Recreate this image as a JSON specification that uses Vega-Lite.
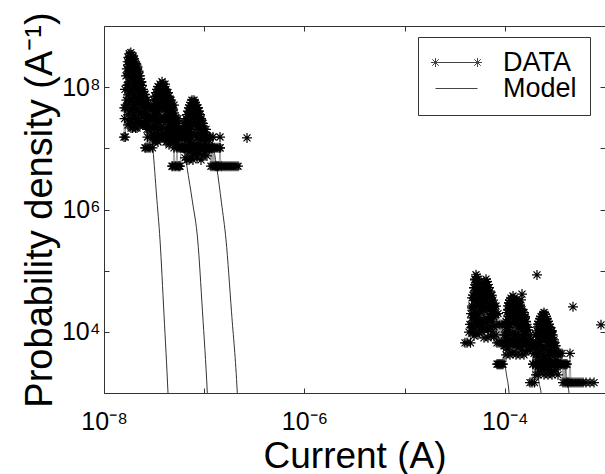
{
"$schema": "https://vega.github.io/schema/vega-lite/v6.json",
"width": 501, "height": 367,
"autosize": {"type": "none"},
"padding": {"left": 104, "top": 26, "right": 0, "bottom": 81},
"background": "white",
"config": {"font": "Liberation Sans", "view": {"stroke": "#333", "strokeWidth": 1}},
"datasets": {
"data": [
{"x":1.583e-8,"y":1.53e7,"g":"A"},{"x":1.594e-8,"y":4.59e7,"g":"A"},{"x":1.605e-8,"y":3.06e7,"g":"A"},{"x":1.62e-8,"y":9.18e7,"g":"A"},{"x":1.631e-8,"y":1.53e7,"g":"A"},{"x":1.643e-8,"y":4.59e7,"g":"A"},{"x":1.658e-8,"y":1.53e8,"g":"A"},{"x":1.673e-8,"y":6.12e7,"g":"A"},{"x":1.688e-8,"y":1.989e8,"g":"A"},{"x":1.704e-8,"y":1.071e8,"g":"A"},{"x":1.72e-8,"y":2.601e8,"g":"A"},{"x":1.736e-8,"y":1.683e8,"g":"A"},{"x":1.752e-8,"y":3.06e8,"g":"A"},{"x":1.768e-8,"y":2.142e8,"g":"A"},{"x":1.784e-8,"y":3.519e8,"g":"A"},{"x":1.801e-8,"y":2.601e8,"g":"A"},{"x":1.817e-8,"y":3.213e8,"g":"A"},{"x":1.834e-8,"y":1.836e8,"g":"A"},{"x":1.851e-8,"y":3.672e8,"g":"A"},{"x":1.869e-8,"y":2.754e8,"g":"A"},{"x":1.886e-8,"y":3.366e8,"g":"A"},{"x":1.903e-8,"y":2.295e8,"g":"A"},{"x":1.921e-8,"y":3.06e8,"g":"A"},{"x":1.938e-8,"y":1.53e8,"g":"A"},{"x":1.956e-8,"y":3.213e8,"g":"A"},{"x":1.975e-8,"y":2.448e8,"g":"A"},{"x":1.993e-8,"y":2.907e8,"g":"A"},{"x":2.011e-8,"y":1.224e8,"g":"A"},{"x":2.03e-8,"y":2.601e8,"g":"A"},{"x":2.048e-8,"y":1.989e8,"g":"A"},{"x":2.067e-8,"y":2.448e8,"g":"A"},{"x":2.086e-8,"y":1.683e8,"g":"A"},{"x":2.11e-8,"y":2.295e8,"g":"A"},{"x":2.135e-8,"y":1.377e8,"g":"A"},{"x":2.16e-8,"y":2.142e8,"g":"A"},{"x":2.184e-8,"y":1.071e8,"g":"A"},{"x":2.21e-8,"y":1.836e8,"g":"A"},{"x":2.235e-8,"y":1.53e8,"g":"A"},{"x":2.261e-8,"y":7.65e7,"g":"A"},{"x":2.287e-8,"y":1.53e8,"g":"A"},{"x":2.313e-8,"y":1.071e8,"g":"A"},{"x":2.34e-8,"y":1.224e8,"g":"A"},{"x":2.367e-8,"y":6.12e7,"g":"A"},{"x":2.394e-8,"y":1.071e8,"g":"A"},{"x":2.422e-8,"y":7.65e7,"g":"A"},{"x":2.45e-8,"y":9.18e7,"g":"A"},{"x":2.478e-8,"y":4.59e7,"g":"A"},{"x":2.507e-8,"y":7.65e7,"g":"A"},{"x":2.536e-8,"y":6.12e7,"g":"A"},{"x":2.565e-8,"y":7.65e7,"g":"A"},{"x":2.595e-8,"y":3.06e7,"g":"A"},{"x":2.625e-8,"y":6.12e7,"g":"A"},{"x":2.655e-8,"y":4.59e7,"g":"A"},{"x":2.686e-8,"y":6.12e7,"g":"A"},{"x":2.717e-8,"y":1.53e7,"g":"A"},{"x":2.748e-8,"y":4.59e7,"g":"A"},{"x":2.78e-8,"y":3.06e7,"g":"A"},{"x":2.812e-8,"y":4.59e7,"g":"A"},{"x":2.877e-8,"y":3.06e7,"g":"A"},{"x":2.944e-8,"y":4.59e7,"g":"A"},{"x":3.013e-8,"y":1.53e7,"g":"A"},{"x":3.083e-8,"y":3.06e7,"g":"A"},{"x":3.155e-8,"y":1.53e7,"g":"A"},{"x":3.266e-8,"y":3.06e7,"g":"A"},{"x":3.381e-8,"y":1.53e7,"g":"A"},{"x":3.499e-8,"y":1.53e7,"g":"A"},{"x":3.622e-8,"y":3.06e7,"g":"A"},{"x":3.749e-8,"y":1.53e7,"g":"A"},{"x":3.881e-8,"y":1.53e7,"g":"A"},{"x":4.017e-8,"y":1.53e7,"g":"A"},{"x":4.157e-8,"y":1.53e7,"g":"A"},{"x":4.352e-8,"y":3.06e7,"g":"A"},{"x":4.557e-8,"y":1.53e7,"g":"A"},{"x":4.771e-8,"y":1.53e7,"g":"A"},{"x":4.995e-8,"y":1.53e7,"g":"A"},{"x":5.231e-8,"y":1.53e7,"g":"A"},{"x":5.476e-8,"y":1.53e7,"g":"A"},{"x":5.734e-8,"y":1.53e7,"g":"A"},{"x":6.003e-8,"y":1.53e7,"g":"A"},{"x":6.285e-8,"y":1.53e7,"g":"A"},{"x":6.582e-8,"y":1.53e7,"g":"A"},{"x":6.891e-8,"y":1.53e7,"g":"A"},{"x":7.216e-8,"y":1.53e7,"g":"A"},
{"x":1.224e-7,"y":1.53e7,"g":"A2"},{"x":1.438e-7,"y":1.53e7,"g":"A2"},
{"x":2.674e-7,"y":1.48e7,"g":"o1"},
{"x":2.565e-8,"y":1.02e7,"g":"B"},{"x":2.625e-8,"y":1.02e7,"g":"B"},{"x":2.686e-8,"y":2.04e7,"g":"B"},{"x":2.748e-8,"y":1.02e7,"g":"B"},{"x":2.812e-8,"y":2.04e7,"g":"B"},{"x":2.877e-8,"y":1.02e7,"g":"B"},{"x":2.944e-8,"y":3.06e7,"g":"B"},{"x":3.013e-8,"y":2.04e7,"g":"B"},{"x":3.048e-8,"y":1.02e7,"g":"B"},{"x":3.083e-8,"y":4.08e7,"g":"B"},{"x":3.119e-8,"y":2.04e7,"g":"B"},{"x":3.155e-8,"y":6.12e7,"g":"B"},{"x":3.191e-8,"y":3.06e7,"g":"B"},{"x":3.228e-8,"y":7.14e7,"g":"B"},{"x":3.266e-8,"y":4.08e7,"g":"B"},{"x":3.304e-8,"y":8.16e7,"g":"B"},{"x":3.342e-8,"y":5.1e7,"g":"B"},{"x":3.381e-8,"y":9.18e7,"g":"B"},{"x":3.42e-8,"y":6.12e7,"g":"B"},{"x":3.459e-8,"y":1.02e8,"g":"B"},{"x":3.5e-8,"y":7.14e7,"g":"B"},{"x":3.54e-8,"y":9.18e7,"g":"B"},{"x":3.581e-8,"y":5.1e7,"g":"B"},{"x":3.622e-8,"y":1.122e8,"g":"B"},{"x":3.664e-8,"y":8.16e7,"g":"B"},{"x":3.706e-8,"y":1.02e8,"g":"B"},{"x":3.749e-8,"y":6.12e7,"g":"B"},{"x":3.792e-8,"y":1.224e8,"g":"B"},{"x":3.836e-8,"y":9.18e7,"g":"B"},{"x":3.881e-8,"y":1.122e8,"g":"B"},{"x":3.926e-8,"y":7.14e7,"g":"B"},{"x":3.971e-8,"y":1.02e8,"g":"B"},{"x":4.017e-8,"y":5.1e7,"g":"B"},{"x":4.063e-8,"y":1.122e8,"g":"B"},{"x":4.11e-8,"y":8.16e7,"g":"B"},{"x":4.157e-8,"y":9.18e7,"g":"B"},{"x":4.205e-8,"y":6.12e7,"g":"B"},{"x":4.254e-8,"y":8.16e7,"g":"B"},{"x":4.303e-8,"y":4.08e7,"g":"B"},{"x":4.352e-8,"y":8.16e7,"g":"B"},{"x":4.403e-8,"y":6.12e7,"g":"B"},{"x":4.454e-8,"y":7.14e7,"g":"B"},{"x":4.505e-8,"y":3.06e7,"g":"B"},{"x":4.557e-8,"y":6.12e7,"g":"B"},{"x":4.61e-8,"y":4.08e7,"g":"B"},{"x":4.663e-8,"y":6.12e7,"g":"B"},{"x":4.717e-8,"y":2.04e7,"g":"B"},{"x":4.771e-8,"y":5.1e7,"g":"B"},{"x":4.826e-8,"y":3.06e7,"g":"B"},{"x":4.882e-8,"y":4.08e7,"g":"B"},{"x":4.995e-8,"y":5.1e7,"g":"B"},{"x":5.112e-8,"y":2.04e7,"g":"B"},{"x":5.231e-8,"y":3.06e7,"g":"B"},{"x":5.352e-8,"y":2.04e7,"g":"B"},{"x":5.476e-8,"y":3.06e7,"g":"B"},{"x":5.604e-8,"y":1.02e7,"g":"B"},{"x":5.734e-8,"y":2.04e7,"g":"B"},{"x":5.867e-8,"y":1.02e7,"g":"B"},{"x":6.003e-8,"y":2.04e7,"g":"B"},{"x":6.285e-8,"y":1.02e7,"g":"B"},{"x":6.582e-8,"y":1.02e7,"g":"B"},{"x":6.891e-8,"y":1.02e7,"g":"B"},{"x":7.216e-8,"y":2.04e7,"g":"B"},{"x":7.554e-8,"y":1.02e7,"g":"B"},{"x":7.91e-8,"y":1.02e7,"g":"B"},{"x":8.283e-8,"y":1.02e7,"g":"B"},{"x":8.673e-8,"y":1.02e7,"g":"B"},{"x":9.081e-8,"y":1.02e7,"g":"B"},{"x":9.506e-8,"y":1.02e7,"g":"B"},{"x":9.954e-8,"y":1.02e7,"g":"B"},{"x":1.042e-7,"y":1.02e7,"g":"B"},{"x":1.091e-7,"y":1.02e7,"g":"B"},{"x":1.142e-7,"y":1.02e7,"g":"B"},{"x":1.196e-7,"y":1.02e7,"g":"B"},{"x":1.253e-7,"y":1.02e7,"g":"B"},{"x":1.312e-7,"y":1.02e7,"g":"B"},{"x":1.373e-7,"y":1.02e7,"g":"B"},{"x":1.438e-7,"y":1.02e7,"g":"B"},
{"x":4.771e-8,"y":5.1e6,"g":"C"},{"x":4.882e-8,"y":5.1e6,"g":"C"},{"x":4.995e-8,"y":1.02e7,"g":"C"},{"x":5.112e-8,"y":5.1e6,"g":"C"},{"x":5.231e-8,"y":5.1e6,"g":"C"},{"x":5.352e-8,"y":1.02e7,"g":"C"},{"x":5.476e-8,"y":5.1e6,"g":"C"},{"x":5.604e-8,"y":5.1e6,"g":"C"},{"x":5.734e-8,"y":5.1e6,"g":"C"},{"x":5.867e-8,"y":1.02e7,"g":"C"},{"x":6.003e-8,"y":1.53e7,"g":"C"},{"x":6.073e-8,"y":1.02e7,"g":"C"},{"x":6.143e-8,"y":2.04e7,"g":"C"},{"x":6.214e-8,"y":1.02e7,"g":"C"},{"x":6.285e-8,"y":2.55e7,"g":"C"},{"x":6.358e-8,"y":1.53e7,"g":"C"},{"x":6.432e-8,"y":2.55e7,"g":"C"},{"x":6.507e-8,"y":1.02e7,"g":"C"},{"x":6.582e-8,"y":3.06e7,"g":"C"},{"x":6.658e-8,"y":2.04e7,"g":"C"},{"x":6.735e-8,"y":3.57e7,"g":"C"},{"x":6.813e-8,"y":1.53e7,"g":"C"},{"x":6.891e-8,"y":4.08e7,"g":"C"},{"x":6.971e-8,"y":2.55e7,"g":"C"},{"x":7.052e-8,"y":4.59e7,"g":"C"},{"x":7.134e-8,"y":3.06e7,"g":"C"},{"x":7.216e-8,"y":5.1e7,"g":"C"},{"x":7.299e-8,"y":3.57e7,"g":"C"},{"x":7.383e-8,"y":5.61e7,"g":"C"},{"x":7.468e-8,"y":3.06e7,"g":"C"},{"x":7.554e-8,"y":6.12e7,"g":"C"},{"x":7.642e-8,"y":4.08e7,"g":"C"},{"x":7.73e-8,"y":5.61e7,"g":"C"},{"x":7.82e-8,"y":3.57e7,"g":"C"},{"x":7.91e-8,"y":6.12e7,"g":"C"},{"x":8.002e-8,"y":4.59e7,"g":"C"},{"x":8.094e-8,"y":5.61e7,"g":"C"},{"x":8.188e-8,"y":3.06e7,"g":"C"},{"x":8.283e-8,"y":5.1e7,"g":"C"},{"x":8.379e-8,"y":3.57e7,"g":"C"},{"x":8.475e-8,"y":4.59e7,"g":"C"},{"x":8.574e-8,"y":2.55e7,"g":"C"},{"x":8.673e-8,"y":4.59e7,"g":"C"},{"x":8.773e-8,"y":3.06e7,"g":"C"},{"x":8.874e-8,"y":4.08e7,"g":"C"},{"x":8.977e-8,"y":2.04e7,"g":"C"},{"x":9.081e-8,"y":3.57e7,"g":"C"},{"x":9.186e-8,"y":2.55e7,"g":"C"},{"x":9.292e-8,"y":3.06e7,"g":"C"},{"x":9.399e-8,"y":1.53e7,"g":"C"},{"x":9.506e-8,"y":2.55e7,"g":"C"},{"x":9.616e-8,"y":2.04e7,"g":"C"},{"x":9.727e-8,"y":2.55e7,"g":"C"},{"x":9.954e-8,"y":2.04e7,"g":"C"},{"x":1.019e-7,"y":1.02e7,"g":"C"},{"x":1.042e-7,"y":2.04e7,"g":"C"},{"x":1.066e-7,"y":1.53e7,"g":"C"},{"x":1.091e-7,"y":1.53e7,"g":"C"},{"x":1.116e-7,"y":1.02e7,"g":"C"},{"x":1.142e-7,"y":1.53e7,"g":"C"},{"x":1.169e-7,"y":5.1e6,"g":"C"},{"x":1.196e-7,"y":1.02e7,"g":"C"},{"x":1.224e-7,"y":5.1e6,"g":"C"},{"x":1.253e-7,"y":1.02e7,"g":"C"},{"x":1.282e-7,"y":5.1e6,"g":"C"},{"x":1.312e-7,"y":5.1e6,"g":"C"},{"x":1.342e-7,"y":5.1e6,"g":"C"},{"x":1.373e-7,"y":5.1e6,"g":"C"},{"x":1.405e-7,"y":5.1e6,"g":"C"},{"x":1.438e-7,"y":1.02e7,"g":"C"},{"x":1.471e-7,"y":5.1e6,"g":"C"},{"x":1.506e-7,"y":5.1e6,"g":"C"},{"x":1.576e-7,"y":5.1e6,"g":"C"},{"x":1.65e-7,"y":5.1e6,"g":"C"},{"x":1.728e-7,"y":5.1e6,"g":"C"},{"x":1.809e-7,"y":5.1e6,"g":"C"},{"x":1.894e-7,"y":5.1e6,"g":"C"},{"x":1.983e-7,"y":5.1e6,"g":"C"},{"x":2.077e-7,"y":5.1e6,"g":"C"},{"x":2.174e-7,"y":5.1e6,"g":"C"},
{"x":1.736e-8,"y":2.31e8,"g":"fa1"},{"x":1.736e-8,"y":1.58e8,"g":"fa1"},{"x":1.736e-8,"y":1.09e8,"g":"fa1"},{"x":1.736e-8,"y":7.46e7,"g":"fa1"},{"x":1.736e-8,"y":5.12e7,"g":"fa1"},{"x":1.736e-8,"y":3.52e7,"g":"fa1"},{"x":1.736e-8,"y":2.41e7,"g":"fa1"},
{"x":1.797e-8,"y":2.58e8,"g":"fa2"},{"x":1.797e-8,"y":1.77e8,"g":"fa2"},{"x":1.797e-8,"y":1.22e8,"g":"fa2"},{"x":1.797e-8,"y":8.35e7,"g":"fa2"},{"x":1.797e-8,"y":5.73e7,"g":"fa2"},{"x":1.797e-8,"y":3.94e7,"g":"fa2"},{"x":1.797e-8,"y":2.7e7,"g":"fa2"},
{"x":1.86e-8,"y":2.78e8,"g":"fa3"},{"x":1.86e-8,"y":1.91e8,"g":"fa3"},{"x":1.86e-8,"y":1.31e8,"g":"fa3"},{"x":1.86e-8,"y":9.0e7,"g":"fa3"},{"x":1.86e-8,"y":6.18e7,"g":"fa3"},{"x":1.86e-8,"y":4.24e7,"g":"fa3"},{"x":1.86e-8,"y":2.91e7,"g":"fa3"},{"x":1.86e-8,"y":2.15e7,"g":"fa3"},
{"x":1.93e-8,"y":3.0e8,"g":"fa4"},{"x":1.93e-8,"y":2.06e8,"g":"fa4"},{"x":1.93e-8,"y":1.41e8,"g":"fa4"},{"x":1.93e-8,"y":9.7e7,"g":"fa4"},{"x":1.93e-8,"y":6.67e7,"g":"fa4"},{"x":1.93e-8,"y":4.57e7,"g":"fa4"},{"x":1.93e-8,"y":3.14e7,"g":"fa4"},{"x":1.93e-8,"y":2.15e7,"g":"fa4"},
{"x":1.993e-8,"y":2.31e8,"g":"fa5"},{"x":1.993e-8,"y":1.58e8,"g":"fa5"},{"x":1.993e-8,"y":1.09e8,"g":"fa5"},{"x":1.993e-8,"y":7.46e7,"g":"fa5"},{"x":1.993e-8,"y":5.12e7,"g":"fa5"},{"x":1.993e-8,"y":3.52e7,"g":"fa5"},{"x":1.993e-8,"y":2.41e7,"g":"fa5"},
{"x":2.062e-8,"y":2.06e8,"g":"fa6"},{"x":2.062e-8,"y":1.41e8,"g":"fa6"},{"x":2.062e-8,"y":9.7e7,"g":"fa6"},{"x":2.062e-8,"y":6.67e7,"g":"fa6"},{"x":2.062e-8,"y":4.57e7,"g":"fa6"},{"x":2.062e-8,"y":3.14e7,"g":"fa6"},{"x":2.062e-8,"y":2.15e7,"g":"fa6"},
{"x":2.135e-8,"y":1.91e8,"g":"fa7"},{"x":2.135e-8,"y":1.31e8,"g":"fa7"},{"x":2.135e-8,"y":9.0e7,"g":"fa7"},{"x":2.135e-8,"y":6.18e7,"g":"fa7"},{"x":2.135e-8,"y":4.24e7,"g":"fa7"},{"x":2.135e-8,"y":2.91e7,"g":"fa7"},{"x":2.135e-8,"y":2.15e7,"g":"fa7"},
{"x":2.21e-8,"y":1.77e8,"g":"fa8"},{"x":2.21e-8,"y":1.22e8,"g":"fa8"},{"x":2.21e-8,"y":8.35e7,"g":"fa8"},{"x":2.21e-8,"y":5.73e7,"g":"fa8"},{"x":2.21e-8,"y":3.94e7,"g":"fa8"},{"x":2.21e-8,"y":2.7e7,"g":"fa8"},
{"x":2.287e-8,"y":1.09e8,"g":"fa9"},{"x":2.287e-8,"y":7.46e7,"g":"fa9"},{"x":2.287e-8,"y":5.12e7,"g":"fa9"},{"x":2.287e-8,"y":3.52e7,"g":"fa9"},{"x":2.287e-8,"y":2.41e7,"g":"fa9"},
{"x":2.367e-8,"y":1.22e8,"g":"fa10"},{"x":2.367e-8,"y":8.35e7,"g":"fa10"},{"x":2.367e-8,"y":5.73e7,"g":"fa10"},{"x":2.367e-8,"y":3.94e7,"g":"fa10"},{"x":2.367e-8,"y":2.7e7,"g":"fa10"},
{"x":2.45e-8,"y":7.46e7,"g":"fa11"},{"x":2.45e-8,"y":5.12e7,"g":"fa11"},{"x":2.45e-8,"y":3.52e7,"g":"fa11"},{"x":2.45e-8,"y":2.41e7,"g":"fa11"},
{"x":2.536e-8,"y":7.46e7,"g":"fa12"},{"x":2.536e-8,"y":5.12e7,"g":"fa12"},{"x":2.536e-8,"y":3.52e7,"g":"fa12"},{"x":2.536e-8,"y":2.41e7,"g":"fa12"},
{"x":2.625e-8,"y":5.12e7,"g":"fa13"},{"x":2.625e-8,"y":3.52e7,"g":"fa13"},{"x":2.625e-8,"y":2.41e7,"g":"fa13"},
{"x":2.717e-8,"y":5.12e7,"g":"fa14"},{"x":2.717e-8,"y":3.14e7,"g":"fa14"},
{"x":2.812e-8,"y":3.52e7,"g":"fa15"},{"x":2.812e-8,"y":2.41e7,"g":"fa15"},
{"x":3.155e-8,"y":5.12e7,"g":"fb1"},{"x":3.155e-8,"y":3.52e7,"g":"fb1"},{"x":3.155e-8,"y":2.41e7,"g":"fb1"},{"x":3.155e-8,"y":1.66e7,"g":"fb1"},{"x":3.155e-8,"y":1.27e7,"g":"fb1"},
{"x":3.304e-8,"y":6.92e7,"g":"fb2"},{"x":3.304e-8,"y":4.75e7,"g":"fb2"},{"x":3.304e-8,"y":3.26e7,"g":"fb2"},{"x":3.304e-8,"y":2.24e7,"g":"fb2"},{"x":3.304e-8,"y":1.54e7,"g":"fb2"},
{"x":3.381e-8,"y":7.46e7,"g":"fb3"},{"x":3.381e-8,"y":4.24e7,"g":"fb3"},{"x":3.381e-8,"y":2.41e7,"g":"fb3"},{"x":3.381e-8,"y":1.37e7,"g":"fb3"},
{"x":3.459e-8,"y":8.35e7,"g":"fb4"},{"x":3.459e-8,"y":5.73e7,"g":"fb4"},{"x":3.459e-8,"y":3.94e7,"g":"fb4"},{"x":3.459e-8,"y":2.7e7,"g":"fb4"},{"x":3.459e-8,"y":1.85e7,"g":"fb4"},{"x":3.459e-8,"y":1.27e7,"g":"fb4"},
{"x":3.622e-8,"y":9.7e7,"g":"fb5"},{"x":3.622e-8,"y":6.67e7,"g":"fb5"},{"x":3.622e-8,"y":4.57e7,"g":"fb5"},{"x":3.622e-8,"y":3.14e7,"g":"fb5"},{"x":3.622e-8,"y":2.15e7,"g":"fb5"},{"x":3.622e-8,"y":1.48e7,"g":"fb5"},
{"x":3.706e-8,"y":1.047e8,"g":"fb6"},{"x":3.706e-8,"y":5.52e7,"g":"fb6"},{"x":3.706e-8,"y":2.91e7,"g":"fb6"},{"x":3.706e-8,"y":1.66e7,"g":"fb6"},
{"x":3.792e-8,"y":1.007e8,"g":"fb7"},{"x":3.792e-8,"y":6.92e7,"g":"fb7"},{"x":3.792e-8,"y":4.75e7,"g":"fb7"},{"x":3.792e-8,"y":3.26e7,"g":"fb7"},{"x":3.792e-8,"y":2.24e7,"g":"fb7"},{"x":3.792e-8,"y":1.54e7,"g":"fb7"},
{"x":3.971e-8,"y":9.7e7,"g":"fb8"},{"x":3.971e-8,"y":6.67e7,"g":"fb8"},{"x":3.971e-8,"y":4.57e7,"g":"fb8"},{"x":3.971e-8,"y":3.14e7,"g":"fb8"},{"x":3.971e-8,"y":2.15e7,"g":"fb8"},{"x":3.971e-8,"y":1.48e7,"g":"fb8"},
{"x":4.063e-8,"y":9.0e7,"g":"fb9"},{"x":4.063e-8,"y":5.12e7,"g":"fb9"},{"x":4.063e-8,"y":2.91e7,"g":"fb9"},{"x":4.063e-8,"y":1.66e7,"g":"fb9"},
{"x":4.157e-8,"y":8.35e7,"g":"fb10"},{"x":4.157e-8,"y":5.73e7,"g":"fb10"},{"x":4.157e-8,"y":3.94e7,"g":"fb10"},{"x":4.157e-8,"y":2.7e7,"g":"fb10"},{"x":4.157e-8,"y":1.85e7,"g":"fb10"},{"x":4.157e-8,"y":1.27e7,"g":"fb10"},
{"x":4.352e-8,"y":6.92e7,"g":"fb11"},{"x":4.352e-8,"y":4.75e7,"g":"fb11"},{"x":4.352e-8,"y":3.26e7,"g":"fb11"},{"x":4.352e-8,"y":2.24e7,"g":"fb11"},{"x":4.352e-8,"y":1.54e7,"g":"fb11"},
{"x":4.454e-8,"y":6.18e7,"g":"fb12"},{"x":4.454e-8,"y":3.52e7,"g":"fb12"},{"x":4.454e-8,"y":2.0e7,"g":"fb12"},{"x":4.454e-8,"y":1.14e7,"g":"fb12"},
{"x":4.557e-8,"y":5.73e7,"g":"fb13"},{"x":4.557e-8,"y":3.94e7,"g":"fb13"},{"x":4.557e-8,"y":2.7e7,"g":"fb13"},{"x":4.557e-8,"y":1.85e7,"g":"fb13"},{"x":4.557e-8,"y":1.27e7,"g":"fb13"},
{"x":4.771e-8,"y":4.57e7,"g":"fb14"},{"x":4.771e-8,"y":3.14e7,"g":"fb14"},{"x":4.771e-8,"y":2.15e7,"g":"fb14"},{"x":4.771e-8,"y":1.48e7,"g":"fb14"},
{"x":4.882e-8,"y":4.24e7,"g":"fb15"},{"x":4.882e-8,"y":2.41e7,"g":"fb15"},{"x":4.882e-8,"y":1.37e7,"g":"fb15"},
{"x":4.995e-8,"y":3.79e7,"g":"fb16"},{"x":4.995e-8,"y":2.6e7,"g":"fb16"},{"x":4.995e-8,"y":1.79e7,"g":"fb16"},{"x":4.995e-8,"y":1.23e7,"g":"fb16"},
{"x":5.231e-8,"y":3.14e7,"g":"fb17"},{"x":5.231e-8,"y":2.15e7,"g":"fb17"},{"x":5.231e-8,"y":1.48e7,"g":"fb17"},
{"x":5.476e-8,"y":2.6e7,"g":"fb18"},{"x":5.476e-8,"y":1.79e7,"g":"fb18"},{"x":5.476e-8,"y":1.23e7,"g":"fb18"},
{"x":6.432e-8,"y":2.15e7,"g":"fc1"},{"x":6.432e-8,"y":1.48e7,"g":"fc1"},{"x":6.432e-8,"y":1.02e7,"g":"fc1"},{"x":6.432e-8,"y":6.97e6,"g":"fc1"},
{"x":6.735e-8,"y":2.91e7,"g":"fc2"},{"x":6.735e-8,"y":2.0e7,"g":"fc2"},{"x":6.735e-8,"y":1.37e7,"g":"fc2"},{"x":6.735e-8,"y":9.42e6,"g":"fc2"},{"x":6.735e-8,"y":6.46e6,"g":"fc2"},
{"x":7.052e-8,"y":3.94e7,"g":"fc3"},{"x":7.052e-8,"y":2.7e7,"g":"fc3"},{"x":7.052e-8,"y":1.85e7,"g":"fc3"},{"x":7.052e-8,"y":1.27e7,"g":"fc3"},{"x":7.052e-8,"y":8.74e6,"g":"fc3"},{"x":7.052e-8,"y":6.46e6,"g":"fc3"},
{"x":7.383e-8,"y":4.75e7,"g":"fc4"},{"x":7.383e-8,"y":3.26e7,"g":"fc4"},{"x":7.383e-8,"y":2.24e7,"g":"fc4"},{"x":7.383e-8,"y":1.54e7,"g":"fc4"},{"x":7.383e-8,"y":1.05e7,"g":"fc4"},{"x":7.383e-8,"y":7.23e6,"g":"fc4"},
{"x":7.73e-8,"y":5.52e7,"g":"fc5"},{"x":7.73e-8,"y":3.79e7,"g":"fc5"},{"x":7.73e-8,"y":2.6e7,"g":"fc5"},{"x":7.73e-8,"y":1.79e7,"g":"fc5"},{"x":7.73e-8,"y":1.23e7,"g":"fc5"},{"x":7.73e-8,"y":8.41e6,"g":"fc5"},{"x":7.73e-8,"y":6.46e6,"g":"fc5"},
{"x":8.094e-8,"y":5.31e7,"g":"fc6"},{"x":8.094e-8,"y":3.65e7,"g":"fc6"},{"x":8.094e-8,"y":2.5e7,"g":"fc6"},{"x":8.094e-8,"y":1.72e7,"g":"fc6"},{"x":8.094e-8,"y":1.18e7,"g":"fc6"},{"x":8.094e-8,"y":8.1e6,"g":"fc6"},
{"x":8.475e-8,"y":4.57e7,"g":"fc7"},{"x":8.475e-8,"y":3.14e7,"g":"fc7"},{"x":8.475e-8,"y":2.15e7,"g":"fc7"},{"x":8.475e-8,"y":1.48e7,"g":"fc7"},{"x":8.475e-8,"y":1.02e7,"g":"fc7"},{"x":8.475e-8,"y":6.97e6,"g":"fc7"},
{"x":8.874e-8,"y":3.65e7,"g":"fc8"},{"x":8.874e-8,"y":2.5e7,"g":"fc8"},{"x":8.874e-8,"y":1.72e7,"g":"fc8"},{"x":8.874e-8,"y":1.18e7,"g":"fc8"},{"x":8.874e-8,"y":8.1e6,"g":"fc8"},
{"x":9.292e-8,"y":2.91e7,"g":"fc9"},{"x":9.292e-8,"y":2.0e7,"g":"fc9"},{"x":9.292e-8,"y":1.37e7,"g":"fc9"},{"x":9.292e-8,"y":9.42e6,"g":"fc9"},{"x":9.292e-8,"y":6.46e6,"g":"fc9"},
{"x":9.727e-8,"y":2.32e7,"g":"fc10"},{"x":9.727e-8,"y":1.6e7,"g":"fc10"},{"x":9.727e-8,"y":1.09e7,"g":"fc10"},{"x":9.727e-8,"y":7.51e6,"g":"fc10"},
{"x":1.019e-7,"y":1.85e7,"g":"fc11"},{"x":1.019e-7,"y":1.27e7,"g":"fc11"},{"x":1.019e-7,"y":8.74e6,"g":"fc11"},
{"x":1.066e-7,"y":1.6e7,"g":"fc12"},{"x":1.066e-7,"y":1.09e7,"g":"fc12"},{"x":1.066e-7,"y":7.51e6,"g":"fc12"},
{"x":1.116e-7,"y":1.37e7,"g":"fc13"},{"x":1.116e-7,"y":9.42e6,"g":"fc13"},
{"x":4.006e-5,"y":6.6e3,"g":"D"},{"x":4.195e-5,"y":6.6e3,"g":"D"},{"x":4.393e-5,"y":9.9e3,"g":"D"},{"x":4.494e-5,"y":1.32e4,"g":"D"},{"x":4.546e-5,"y":6.6e3,"g":"D"},{"x":4.599e-5,"y":1.98e4,"g":"D"},{"x":4.653e-5,"y":1.32e4,"g":"D"},{"x":4.707e-5,"y":2.64e4,"g":"D"},{"x":4.761e-5,"y":9.9e3,"g":"D"},{"x":4.816e-5,"y":3.96e4,"g":"D"},{"x":4.872e-5,"y":1.98e4,"g":"D"},{"x":4.928e-5,"y":5.28e4,"g":"D"},{"x":4.985e-5,"y":3.3e4,"g":"D"},{"x":5.043e-5,"y":7.26e4,"g":"D"},{"x":5.101e-5,"y":4.62e4,"g":"D"},{"x":5.16e-5,"y":8.58e4,"g":"D"},{"x":5.22e-5,"y":5.94e4,"g":"D"},{"x":5.28e-5,"y":7.92e4,"g":"D"},{"x":5.341e-5,"y":5.28e4,"g":"D"},{"x":5.402e-5,"y":7.26e4,"g":"D"},{"x":5.465e-5,"y":3.96e4,"g":"D"},{"x":5.528e-5,"y":6.6e4,"g":"D"},{"x":5.592e-5,"y":4.62e4,"g":"D"},{"x":5.656e-5,"y":5.94e4,"g":"D"},{"x":5.722e-5,"y":3.3e4,"g":"D"},{"x":5.788e-5,"y":5.28e4,"g":"D"},{"x":5.855e-5,"y":3.96e4,"g":"D"},{"x":5.923e-5,"y":5.94e4,"g":"D"},{"x":5.991e-5,"y":2.64e4,"g":"D"},{"x":6.06e-5,"y":5.28e4,"g":"D"},{"x":6.13e-5,"y":3.96e4,"g":"D"},{"x":6.2e-5,"y":6.6e4,"g":"D"},{"x":6.272e-5,"y":4.62e4,"g":"D"},{"x":6.345e-5,"y":5.94e4,"g":"D"},{"x":6.419e-5,"y":3.3e4,"g":"D"},{"x":6.493e-5,"y":7.26e4,"g":"D"},{"x":6.568e-5,"y":5.28e4,"g":"D"},{"x":6.644e-5,"y":6.6e4,"g":"D"},{"x":6.72e-5,"y":3.96e4,"g":"D"},{"x":6.797e-5,"y":5.94e4,"g":"D"},{"x":6.876e-5,"y":3.3e4,"g":"D"},{"x":6.955e-5,"y":5.28e4,"g":"D"},{"x":7.036e-5,"y":2.64e4,"g":"D"},{"x":7.117e-5,"y":4.62e4,"g":"D"},{"x":7.2e-5,"y":3.3e4,"g":"D"},{"x":7.283e-5,"y":3.96e4,"g":"D"},{"x":7.368e-5,"y":1.98e4,"g":"D"},{"x":7.453e-5,"y":3.96e4,"g":"D"},{"x":7.539e-5,"y":2.64e4,"g":"D"},{"x":7.626e-5,"y":3.3e4,"g":"D"},{"x":7.802e-5,"y":2.64e4,"g":"D"},{"x":7.984e-5,"y":1.98e4,"g":"D"},{"x":8.17e-5,"y":2.64e4,"g":"D"},{"x":8.36e-5,"y":6.6e3,"g":"D"},{"x":8.553e-5,"y":1.98e4,"g":"D"},{"x":8.752e-5,"y":6.6e3,"g":"D"},{"x":8.955e-5,"y":1.32e4,"g":"D"},{"x":9.164e-5,"y":6.6e3,"g":"D"},{"x":9.378e-5,"y":1.32e4,"g":"D"},{"x":9.596e-5,"y":6.6e3,"g":"D"},{"x":1.005e-4,"y":6.6e3,"g":"D"},{"x":1.052e-4,"y":6.6e3,"g":"D"},{"x":1.101e-4,"y":6.6e3,"g":"D"},{"x":1.153e-4,"y":6.6e3,"g":"D"},{"x":1.207e-4,"y":6.6e3,"g":"D"},{"x":1.264e-4,"y":6.6e3,"g":"D"},{"x":1.323e-4,"y":6.6e3,"g":"D"},{"x":1.386e-4,"y":6.6e3,"g":"D"},{"x":1.451e-4,"y":6.6e3,"g":"D"},{"x":1.519e-4,"y":6.6e3,"g":"D"},{"x":1.59e-4,"y":6.6e3,"g":"D"},{"x":1.665e-4,"y":6.6e3,"g":"D"},{"x":1.743e-4,"y":6.6e3,"g":"D"},{"x":1.825e-4,"y":6.6e3,"g":"D"},{"x":1.911e-4,"y":6.6e3,"g":"D"},
{"x":8.36e-5,"y":2.96e3,"g":"E"},{"x":8.553e-5,"y":2.96e3,"g":"E"},{"x":8.752e-5,"y":2.96e3,"g":"E"},{"x":8.955e-5,"y":2.96e3,"g":"E"},{"x":9.164e-5,"y":2.96e3,"g":"E"},{"x":9.378e-5,"y":2.96e3,"g":"E"},{"x":9.596e-5,"y":2.96e3,"g":"E"},{"x":9.818e-5,"y":5.92e3,"g":"E"},{"x":9.933e-5,"y":8.88e3,"g":"E"},{"x":1.005e-4,"y":5.92e3,"g":"E"},{"x":1.016e-4,"y":1.184e4,"g":"E"},{"x":1.028e-4,"y":1.48e4,"g":"E"},{"x":1.04e-4,"y":8.88e3,"g":"E"},{"x":1.052e-4,"y":2.072e4,"g":"E"},{"x":1.064e-4,"y":1.184e4,"g":"E"},{"x":1.076e-4,"y":2.664e4,"g":"E"},{"x":1.088e-4,"y":1.776e4,"g":"E"},{"x":1.101e-4,"y":2.96e4,"g":"E"},{"x":1.114e-4,"y":2.072e4,"g":"E"},{"x":1.127e-4,"y":3.256e4,"g":"E"},{"x":1.14e-4,"y":2.368e4,"g":"E"},{"x":1.153e-4,"y":3.552e4,"g":"E"},{"x":1.166e-4,"y":2.072e4,"g":"E"},{"x":1.18e-4,"y":3.256e4,"g":"E"},{"x":1.193e-4,"y":2.664e4,"g":"E"},{"x":1.207e-4,"y":3.848e4,"g":"E"},{"x":1.221e-4,"y":2.368e4,"g":"E"},{"x":1.235e-4,"y":3.552e4,"g":"E"},{"x":1.249e-4,"y":2.96e4,"g":"E"},{"x":1.264e-4,"y":3.256e4,"g":"E"},{"x":1.278e-4,"y":2.072e4,"g":"E"},{"x":1.293e-4,"y":3.256e4,"g":"E"},{"x":1.308e-4,"y":2.368e4,"g":"E"},{"x":1.323e-4,"y":2.96e4,"g":"E"},{"x":1.338e-4,"y":1.776e4,"g":"E"},{"x":1.354e-4,"y":2.664e4,"g":"E"},{"x":1.37e-4,"y":2.072e4,"g":"E"},{"x":1.386e-4,"y":2.368e4,"g":"E"},{"x":1.402e-4,"y":1.48e4,"g":"E"},{"x":1.418e-4,"y":2.664e4,"g":"E"},{"x":1.434e-4,"y":1.776e4,"g":"E"},{"x":1.451e-4,"y":2.368e4,"g":"E"},{"x":1.468e-4,"y":1.184e4,"g":"E"},{"x":1.485e-4,"y":4.144e4,"g":"E"},{"x":1.502e-4,"y":1.776e4,"g":"E"},{"x":1.519e-4,"y":2.072e4,"g":"E"},{"x":1.536e-4,"y":1.184e4,"g":"E"},{"x":1.554e-4,"y":2.072e4,"g":"E"},{"x":1.572e-4,"y":8.88e3,"g":"E"},{"x":1.59e-4,"y":1.776e4,"g":"E"},{"x":1.609e-4,"y":1.184e4,"g":"E"},{"x":1.628e-4,"y":1.48e4,"g":"E"},{"x":1.665e-4,"y":1.184e4,"g":"E"},{"x":1.703e-4,"y":1.184e4,"g":"E"},{"x":1.743e-4,"y":5.92e3,"g":"E"},{"x":1.784e-4,"y":8.88e3,"g":"E"},{"x":1.825e-4,"y":5.92e3,"g":"E"},{"x":1.868e-4,"y":5.92e3,"g":"E"},{"x":1.911e-4,"y":2.96e3,"g":"E"},{"x":2.001e-4,"y":5.92e3,"g":"E"},{"x":2.095e-4,"y":2.96e3,"g":"E"},{"x":2.194e-4,"y":2.96e3,"g":"E"},{"x":2.297e-4,"y":2.96e3,"g":"E"},{"x":2.406e-4,"y":2.96e3,"g":"E"},{"x":2.519e-4,"y":2.96e3,"g":"E"},{"x":2.638e-4,"y":2.96e3,"g":"E"},{"x":2.762e-4,"y":2.96e3,"g":"E"},{"x":2.892e-4,"y":2.96e3,"g":"E"},{"x":3.028e-4,"y":2.96e3,"g":"E"},{"x":3.169e-4,"y":2.96e3,"g":"E"},{"x":3.319e-4,"y":2.96e3,"g":"E"},{"x":3.475e-4,"y":2.96e3,"g":"E"},{"x":3.639e-4,"y":2.96e3,"g":"E"},{"x":3.81e-4,"y":2.96e3,"g":"E"},{"x":3.988e-4,"y":2.96e3,"g":"E"},{"x":4.176e-4,"y":2.96e3,"g":"E"},
{"x":1.784e-4,"y":1.48e3,"g":"F"},{"x":1.868e-4,"y":1.48e3,"g":"F"},{"x":1.911e-4,"y":2.96e3,"g":"F"},{"x":1.956e-4,"y":4.44e3,"g":"F"},{"x":1.978e-4,"y":1.48e3,"g":"F"},{"x":2.001e-4,"y":5.92e3,"g":"F"},{"x":2.024e-4,"y":2.96e3,"g":"F"},{"x":2.048e-4,"y":8.88e3,"g":"F"},{"x":2.071e-4,"y":4.44e3,"g":"F"},{"x":2.095e-4,"y":1.036e4,"g":"F"},{"x":2.12e-4,"y":5.92e3,"g":"F"},{"x":2.144e-4,"y":1.332e4,"g":"F"},{"x":2.169e-4,"y":7.4e3,"g":"F"},{"x":2.194e-4,"y":1.48e4,"g":"F"},{"x":2.219e-4,"y":8.88e3,"g":"F"},{"x":2.245e-4,"y":1.628e4,"g":"F"},{"x":2.271e-4,"y":1.036e4,"g":"F"},{"x":2.297e-4,"y":1.776e4,"g":"F"},{"x":2.324e-4,"y":1.184e4,"g":"F"},{"x":2.351e-4,"y":1.776e4,"g":"F"},{"x":2.378e-4,"y":1.036e4,"g":"F"},{"x":2.406e-4,"y":1.924e4,"g":"F"},{"x":2.434e-4,"y":1.332e4,"g":"F"},{"x":2.462e-4,"y":2.072e4,"g":"F"},{"x":2.49e-4,"y":1.48e4,"g":"F"},{"x":2.519e-4,"y":1.924e4,"g":"F"},{"x":2.548e-4,"y":1.184e4,"g":"F"},{"x":2.578e-4,"y":1.776e4,"g":"F"},{"x":2.608e-4,"y":1.036e4,"g":"F"},{"x":2.638e-4,"y":1.628e4,"g":"F"},{"x":2.668e-4,"y":1.184e4,"g":"F"},{"x":2.699e-4,"y":1.48e4,"g":"F"},{"x":2.73e-4,"y":8.88e3,"g":"F"},{"x":2.762e-4,"y":1.332e4,"g":"F"},{"x":2.794e-4,"y":7.4e3,"g":"F"},{"x":2.826e-4,"y":1.184e4,"g":"F"},{"x":2.859e-4,"y":8.88e3,"g":"F"},{"x":2.892e-4,"y":1.036e4,"g":"F"},{"x":2.926e-4,"y":5.92e3,"g":"F"},{"x":2.96e-4,"y":1.036e4,"g":"F"},{"x":2.994e-4,"y":4.44e3,"g":"F"},{"x":3.028e-4,"y":8.88e3,"g":"F"},{"x":3.097e-4,"y":7.4e3,"g":"F"},{"x":3.169e-4,"y":5.92e3,"g":"F"},{"x":3.243e-4,"y":5.92e3,"g":"F"},{"x":3.319e-4,"y":2.96e3,"g":"F"},{"x":3.396e-4,"y":4.44e3,"g":"F"},{"x":3.475e-4,"y":2.96e3,"g":"F"},{"x":3.556e-4,"y":4.44e3,"g":"F"},{"x":3.639e-4,"y":2.96e3,"g":"F"},{"x":3.724e-4,"y":4.44e3,"g":"F"},{"x":3.81e-4,"y":1.48e3,"g":"F"},{"x":3.897e-4,"y":2.96e3,"g":"F"},{"x":3.988e-4,"y":1.48e3,"g":"F"},{"x":4.081e-4,"y":2.96e3,"g":"F"},{"x":4.176e-4,"y":1.48e3,"g":"F"},{"x":4.272e-4,"y":1.48e3,"g":"F"},{"x":4.372e-4,"y":1.48e3,"g":"F"},{"x":4.474e-4,"y":4.44e3,"g":"F"},{"x":4.578e-4,"y":1.48e3,"g":"F"},{"x":4.793e-4,"y":1.48e3,"g":"F"},{"x":5.019e-4,"y":1.48e3,"g":"F"},{"x":5.255e-4,"y":1.48e3,"g":"F"},{"x":5.502e-4,"y":1.48e3,"g":"F"},{"x":5.761e-4,"y":1.48e3,"g":"F"},{"x":6.032e-4,"y":1.48e3,"g":"F"},{"x":6.463e-4,"y":1.48e3,"g":"F"},{"x":7.084e-4,"y":1.48e3,"g":"F"},{"x":7.766e-4,"y":1.48e3,"g":"F"},
{"x":4.707e-5,"y":3.6e4,"g":"fd1"},{"x":4.707e-5,"y":2.47e4,"g":"fd1"},{"x":4.707e-5,"y":1.69e4,"g":"fd1"},{"x":4.707e-5,"y":1.16e4,"g":"fd1"},
{"x":4.928e-5,"y":5.24e4,"g":"fd2"},{"x":4.928e-5,"y":3.6e4,"g":"fd2"},{"x":4.928e-5,"y":2.47e4,"g":"fd2"},{"x":4.928e-5,"y":1.69e4,"g":"fd2"},{"x":4.928e-5,"y":1.16e4,"g":"fd2"},{"x":4.928e-5,"y":8.61e3,"g":"fd2"},
{"x":5.043e-5,"y":7.08e4,"g":"fd3"},{"x":5.043e-5,"y":3.33e4,"g":"fd3"},{"x":5.043e-5,"y":1.57e4,"g":"fd3"},
{"x":5.16e-5,"y":6.32e4,"g":"fd4"},{"x":5.16e-5,"y":4.34e4,"g":"fd4"},{"x":5.16e-5,"y":2.98e4,"g":"fd4"},{"x":5.16e-5,"y":2.04e4,"g":"fd4"},{"x":5.16e-5,"y":1.4e4,"g":"fd4"},{"x":5.16e-5,"y":9.63e3,"g":"fd4"},
{"x":5.28e-5,"y":7.08e4,"g":"fd5"},{"x":5.28e-5,"y":3.6e4,"g":"fd5"},{"x":5.28e-5,"y":1.69e4,"g":"fd5"},
{"x":5.402e-5,"y":5.86e4,"g":"fd6"},{"x":5.402e-5,"y":4.03e4,"g":"fd6"},{"x":5.402e-5,"y":2.76e4,"g":"fd6"},{"x":5.402e-5,"y":1.9e4,"g":"fd6"},{"x":5.402e-5,"y":1.3e4,"g":"fd6"},{"x":5.402e-5,"y":8.93e3,"g":"fd6"},
{"x":5.528e-5,"y":5.24e4,"g":"fd7"},{"x":5.528e-5,"y":2.66e4,"g":"fd7"},{"x":5.528e-5,"y":1.25e4,"g":"fd7"},
{"x":5.656e-5,"y":4.85e4,"g":"fd8"},{"x":5.656e-5,"y":3.33e4,"g":"fd8"},{"x":5.656e-5,"y":2.29e4,"g":"fd8"},{"x":5.656e-5,"y":1.57e4,"g":"fd8"},{"x":5.656e-5,"y":1.08e4,"g":"fd8"},
{"x":5.923e-5,"y":4.51e4,"g":"fd9"},{"x":5.923e-5,"y":3.09e4,"g":"fd9"},{"x":5.923e-5,"y":2.12e4,"g":"fd9"},{"x":5.923e-5,"y":1.46e4,"g":"fd9"},{"x":5.923e-5,"y":1.0e4,"g":"fd9"},
{"x":6.06e-5,"y":5.24e4,"g":"fd10"},{"x":6.06e-5,"y":2.76e4,"g":"fd10"},{"x":6.06e-5,"y":1.3e4,"g":"fd10"},
{"x":6.2e-5,"y":4.85e4,"g":"fd11"},{"x":6.2e-5,"y":3.33e4,"g":"fd11"},{"x":6.2e-5,"y":2.29e4,"g":"fd11"},{"x":6.2e-5,"y":1.57e4,"g":"fd11"},{"x":6.2e-5,"y":1.08e4,"g":"fd11"},{"x":6.2e-5,"y":7.98e3,"g":"fd11"},
{"x":6.493e-5,"y":5.24e4,"g":"fd12"},{"x":6.493e-5,"y":3.6e4,"g":"fd12"},{"x":6.493e-5,"y":2.47e4,"g":"fd12"},{"x":6.493e-5,"y":1.69e4,"g":"fd12"},{"x":6.493e-5,"y":1.16e4,"g":"fd12"},
{"x":6.644e-5,"y":5.86e4,"g":"fd13"},{"x":6.644e-5,"y":2.98e4,"g":"fd13"},{"x":6.644e-5,"y":1.4e4,"g":"fd13"},
{"x":6.797e-5,"y":4.85e4,"g":"fd14"},{"x":6.797e-5,"y":3.33e4,"g":"fd14"},{"x":6.797e-5,"y":2.29e4,"g":"fd14"},{"x":6.797e-5,"y":1.57e4,"g":"fd14"},{"x":6.797e-5,"y":1.08e4,"g":"fd14"},{"x":6.797e-5,"y":7.98e3,"g":"fd14"},
{"x":7.117e-5,"y":3.73e4,"g":"fd15"},{"x":7.117e-5,"y":2.56e4,"g":"fd15"},{"x":7.117e-5,"y":1.76e4,"g":"fd15"},{"x":7.117e-5,"y":1.21e4,"g":"fd15"},
{"x":7.283e-5,"y":3.33e4,"g":"fd16"},{"x":7.283e-5,"y":1.69e4,"g":"fd16"},{"x":7.283e-5,"y":8.61e3,"g":"fd16"},
{"x":7.453e-5,"y":3.09e4,"g":"fd17"},{"x":7.453e-5,"y":2.12e4,"g":"fd17"},{"x":7.453e-5,"y":1.46e4,"g":"fd17"},{"x":7.453e-5,"y":1.0e4,"g":"fd17"},
{"x":7.802e-5,"y":2.56e4,"g":"fd18"},{"x":7.802e-5,"y":1.76e4,"g":"fd18"},{"x":7.802e-5,"y":1.21e4,"g":"fd18"},{"x":7.802e-5,"y":8.28e3,"g":"fd18"},
{"x":8.17e-5,"y":1.9e4,"g":"fd19"},{"x":8.17e-5,"y":1.3e4,"g":"fd19"},{"x":8.17e-5,"y":8.93e3,"g":"fd19"},
{"x":1.028e-4,"y":1.3e4,"g":"fe1"},{"x":1.028e-4,"y":8.93e3,"g":"fe1"},{"x":1.028e-4,"y":6.14e3,"g":"fe1"},{"x":1.028e-4,"y":4.21e3,"g":"fe1"},
{"x":1.076e-4,"y":2.29e4,"g":"fe2"},{"x":1.076e-4,"y":1.57e4,"g":"fe2"},{"x":1.076e-4,"y":1.08e4,"g":"fe2"},{"x":1.076e-4,"y":7.4e3,"g":"fe2"},{"x":1.076e-4,"y":5.08e3,"g":"fe2"},
{"x":1.101e-4,"y":2.98e4,"g":"fe3"},{"x":1.101e-4,"y":1.46e4,"g":"fe3"},{"x":1.101e-4,"y":6.87e3,"g":"fe3"},
{"x":1.127e-4,"y":2.76e4,"g":"fe4"},{"x":1.127e-4,"y":1.9e4,"g":"fe4"},{"x":1.127e-4,"y":1.3e4,"g":"fe4"},{"x":1.127e-4,"y":8.93e3,"g":"fe4"},{"x":1.127e-4,"y":6.14e3,"g":"fe4"},{"x":1.127e-4,"y":4.21e3,"g":"fe4"},
{"x":1.18e-4,"y":2.98e4,"g":"fe5"},{"x":1.18e-4,"y":2.04e4,"g":"fe5"},{"x":1.18e-4,"y":1.4e4,"g":"fe5"},{"x":1.18e-4,"y":9.63e3,"g":"fe5"},{"x":1.18e-4,"y":6.61e3,"g":"fe5"},{"x":1.18e-4,"y":4.54e3,"g":"fe5"},
{"x":1.207e-4,"y":3.33e4,"g":"fe6"},{"x":1.207e-4,"y":1.69e4,"g":"fe6"},{"x":1.207e-4,"y":7.98e3,"g":"fe6"},
{"x":1.235e-4,"y":3.09e4,"g":"fe7"},{"x":1.235e-4,"y":2.12e4,"g":"fe7"},{"x":1.235e-4,"y":1.46e4,"g":"fe7"},{"x":1.235e-4,"y":1.0e4,"g":"fe7"},{"x":1.235e-4,"y":6.87e3,"g":"fe7"},{"x":1.235e-4,"y":4.71e3,"g":"fe7"},
{"x":1.293e-4,"y":2.76e4,"g":"fe8"},{"x":1.293e-4,"y":1.9e4,"g":"fe8"},{"x":1.293e-4,"y":1.3e4,"g":"fe8"},{"x":1.293e-4,"y":8.93e3,"g":"fe8"},{"x":1.293e-4,"y":6.14e3,"g":"fe8"},{"x":1.293e-4,"y":4.21e3,"g":"fe8"},
{"x":1.323e-4,"y":3.09e4,"g":"fe9"},{"x":1.323e-4,"y":1.57e4,"g":"fe9"},{"x":1.323e-4,"y":7.4e3,"g":"fe9"},
{"x":1.354e-4,"y":2.47e4,"g":"fe10"},{"x":1.354e-4,"y":1.69e4,"g":"fe10"},{"x":1.354e-4,"y":1.16e4,"g":"fe10"},{"x":1.354e-4,"y":7.98e3,"g":"fe10"},{"x":1.354e-4,"y":5.48e3,"g":"fe10"},
{"x":1.418e-4,"y":2.76e4,"g":"fe11"},{"x":1.418e-4,"y":1.9e4,"g":"fe11"},{"x":1.418e-4,"y":1.3e4,"g":"fe11"},{"x":1.418e-4,"y":8.93e3,"g":"fe11"},{"x":1.418e-4,"y":6.14e3,"g":"fe11"},{"x":1.418e-4,"y":4.21e3,"g":"fe11"},
{"x":1.451e-4,"y":3.33e4,"g":"fe12"},{"x":1.451e-4,"y":1.57e4,"g":"fe12"},{"x":1.451e-4,"y":7.4e3,"g":"fe12"},
{"x":1.485e-4,"y":2.29e4,"g":"fe13"},{"x":1.485e-4,"y":1.57e4,"g":"fe13"},{"x":1.485e-4,"y":1.08e4,"g":"fe13"},{"x":1.485e-4,"y":7.4e3,"g":"fe13"},{"x":1.485e-4,"y":5.08e3,"g":"fe13"},
{"x":1.554e-4,"y":1.9e4,"g":"fe14"},{"x":1.554e-4,"y":1.3e4,"g":"fe14"},{"x":1.554e-4,"y":8.93e3,"g":"fe14"},{"x":1.554e-4,"y":6.14e3,"g":"fe14"},{"x":1.554e-4,"y":4.21e3,"g":"fe14"},
{"x":1.59e-4,"y":1.69e4,"g":"fe15"},{"x":1.59e-4,"y":7.98e3,"g":"fe15"},
{"x":1.628e-4,"y":1.46e4,"g":"fe16"},{"x":1.628e-4,"y":1.0e4,"g":"fe16"},{"x":1.628e-4,"y":6.87e3,"g":"fe16"},{"x":1.628e-4,"y":4.71e3,"g":"fe16"},
{"x":1.703e-4,"y":1.08e4,"g":"fe17"},{"x":1.703e-4,"y":7.4e3,"g":"fe17"},{"x":1.703e-4,"y":5.08e3,"g":"fe17"},
{"x":1.784e-4,"y":7.4e3,"g":"fe18"},{"x":1.784e-4,"y":5.08e3,"g":"fe18"},
{"x":2.048e-4,"y":8.93e3,"g":"ff1"},{"x":2.048e-4,"y":6.14e3,"g":"ff1"},{"x":2.048e-4,"y":4.21e3,"g":"ff1"},{"x":2.048e-4,"y":2.89e3,"g":"ff1"},{"x":2.048e-4,"y":1.98e3,"g":"ff1"},
{"x":2.144e-4,"y":1.21e4,"g":"ff2"},{"x":2.144e-4,"y":8.28e3,"g":"ff2"},{"x":2.144e-4,"y":5.69e3,"g":"ff2"},{"x":2.144e-4,"y":3.91e3,"g":"ff2"},{"x":2.144e-4,"y":2.68e3,"g":"ff2"},{"x":2.144e-4,"y":1.98e3,"g":"ff2"},
{"x":2.194e-4,"y":1.3e4,"g":"ff3"},{"x":2.194e-4,"y":6.14e3,"g":"ff3"},{"x":2.194e-4,"y":2.89e3,"g":"ff3"},
{"x":2.245e-4,"y":1.46e4,"g":"ff4"},{"x":2.245e-4,"y":1.0e4,"g":"ff4"},{"x":2.245e-4,"y":6.87e3,"g":"ff4"},{"x":2.245e-4,"y":4.71e3,"g":"ff4"},{"x":2.245e-4,"y":3.24e3,"g":"ff4"},{"x":2.245e-4,"y":2.22e3,"g":"ff4"},
{"x":2.351e-4,"y":1.57e4,"g":"ff5"},{"x":2.351e-4,"y":1.08e4,"g":"ff5"},{"x":2.351e-4,"y":7.4e3,"g":"ff5"},{"x":2.351e-4,"y":5.08e3,"g":"ff5"},{"x":2.351e-4,"y":3.48e3,"g":"ff5"},{"x":2.351e-4,"y":2.39e3,"g":"ff5"},
{"x":2.406e-4,"y":1.9e4,"g":"ff6"},{"x":2.406e-4,"y":8.93e3,"g":"ff6"},{"x":2.406e-4,"y":4.21e3,"g":"ff6"},
{"x":2.462e-4,"y":1.76e4,"g":"ff7"},{"x":2.462e-4,"y":1.21e4,"g":"ff7"},{"x":2.462e-4,"y":8.28e3,"g":"ff7"},{"x":2.462e-4,"y":5.69e3,"g":"ff7"},{"x":2.462e-4,"y":3.91e3,"g":"ff7"},{"x":2.462e-4,"y":2.68e3,"g":"ff7"},{"x":2.462e-4,"y":1.98e3,"g":"ff7"},
{"x":2.578e-4,"y":1.57e4,"g":"ff8"},{"x":2.578e-4,"y":1.08e4,"g":"ff8"},{"x":2.578e-4,"y":7.4e3,"g":"ff8"},{"x":2.578e-4,"y":5.08e3,"g":"ff8"},{"x":2.578e-4,"y":3.48e3,"g":"ff8"},{"x":2.578e-4,"y":2.39e3,"g":"ff8"},
{"x":2.638e-4,"y":1.46e4,"g":"ff9"},{"x":2.638e-4,"y":6.87e3,"g":"ff9"},{"x":2.638e-4,"y":3.24e3,"g":"ff9"},
{"x":2.699e-4,"y":1.3e4,"g":"ff10"},{"x":2.699e-4,"y":8.93e3,"g":"ff10"},{"x":2.699e-4,"y":6.14e3,"g":"ff10"},{"x":2.699e-4,"y":4.21e3,"g":"ff10"},{"x":2.699e-4,"y":2.89e3,"g":"ff10"},{"x":2.699e-4,"y":1.98e3,"g":"ff10"},
{"x":2.826e-4,"y":1.08e4,"g":"ff11"},{"x":2.826e-4,"y":7.4e3,"g":"ff11"},{"x":2.826e-4,"y":5.08e3,"g":"ff11"},{"x":2.826e-4,"y":3.48e3,"g":"ff11"},{"x":2.826e-4,"y":2.39e3,"g":"ff11"},
{"x":2.892e-4,"y":1.0e4,"g":"ff12"},{"x":2.892e-4,"y":4.71e3,"g":"ff12"},{"x":2.892e-4,"y":2.22e3,"g":"ff12"},
{"x":2.96e-4,"y":8.93e3,"g":"ff13"},{"x":2.96e-4,"y":6.14e3,"g":"ff13"},{"x":2.96e-4,"y":4.21e3,"g":"ff13"},{"x":2.96e-4,"y":2.89e3,"g":"ff13"},{"x":2.96e-4,"y":1.98e3,"g":"ff13"},
{"x":3.097e-4,"y":6.87e3,"g":"ff14"},{"x":3.097e-4,"y":4.71e3,"g":"ff14"},{"x":3.097e-4,"y":3.24e3,"g":"ff14"},{"x":3.097e-4,"y":2.22e3,"g":"ff14"},
{"x":3.243e-4,"y":5.08e3,"g":"ff15"},{"x":3.243e-4,"y":3.48e3,"g":"ff15"},{"x":3.243e-4,"y":2.39e3,"g":"ff15"},
{"x":3.396e-4,"y":4.21e3,"g":"ff16"},{"x":3.396e-4,"y":2.89e3,"g":"ff16"},{"x":3.396e-4,"y":1.98e3,"g":"ff16"},
{"x":2.095e-4,"y":8.53e4,"g":"o2"},{"x":4.793e-4,"y":2.56e4,"g":"o3"},{"x":9.12e-4,"y":1.3e4,"g":"o4"}
],
"model": [
{"x":2.565e-8,"y":6.67e7,"m":"M1"},{"x":2.877e-8,"y":2.41e7,"m":"M1"},{"x":3.083e-8,"y":9.42e6,"m":"M1"},{"x":3.342e-8,"y":1.73e6,"m":"M1"},{"x":3.622e-8,"y":3.18e5,"m":"M1"},{"x":3.971e-8,"y":1.9e4,"m":"M1"},{"x":4.352e-8,"y":1007,"m":"M1"},{"x":4.557e-8,"y":172,"m":"M1"},
{"x":6.142e-8,"y":1.37e7,"m":"M2"},{"x":6.735e-8,"y":4.97e6,"m":"M2"},{"x":7.641e-8,"y":1.33e6,"m":"M2"},{"x":8.613e-8,"y":3.18e5,"m":"M2"},{"x":9.617e-8,"y":2.12e4,"m":"M2"},{"x":1.074e-7,"y":1007,"m":"M2"},{"x":1.116e-7,"y":251,"m":"M2"},
{"x":1.196e-7,"y":1.37e7,"m":"M3"},{"x":1.333e-7,"y":4.97e6,"m":"M3"},{"x":1.488e-7,"y":1.28e6,"m":"M3"},{"x":1.651e-7,"y":3.18e5,"m":"M3"},{"x":1.873e-7,"y":2.12e4,"m":"M3"},{"x":2.139e-7,"y":1007,"m":"M3"},{"x":2.225e-7,"y":251,"m":"M3"},
{"x":9.6e-5,"y":6140,"m":"M4"},{"x":9.818e-5,"y":3910,"m":"M4"},{"x":1.04e-4,"y":1980,"m":"M4"},{"x":1.101e-4,"y":1007,"m":"M4"},{"x":1.127e-4,"y":531,"m":"M4"},
{"x":2.096e-4,"y":2890,"m":"M5"},{"x":2.195e-4,"y":1470,"m":"M5"},{"x":2.298e-4,"y":1007,"m":"M5"},{"x":2.351e-4,"y":531,"m":"M5"},
{"x":3.988e-4,"y":2890,"m":"M6"},{"x":4.176e-4,"y":1470,"m":"M6"},{"x":4.372e-4,"y":1007,"m":"M6"},{"x":4.474e-4,"y":531,"m":"M6"}
],
"legend": [{"s":"DATA","x":1e-10,"y":10},{"s":"Model","x":1e-10,"y":10}]
},
"layer": [
{
"data": {"name": "model"},
"mark": {"type": "line", "clip": true, "color": "#333", "strokeWidth": 1, "interpolate": "monotone"},
"encoding": {
"x": {"field": "x", "type": "quantitative", "scale": {"type": "log", "domain": [1e-8, 1e-3], "nice": false},
"axis": {"orient": "top", "values": [1e-8,1e-7,1e-6,1e-5,1e-4,1e-3], "labels": false, "title": null, "domain": false, "grid": false, "tickSize": -5, "tickColor": "#333"}},
"y": {"field": "y", "type": "quantitative", "scale": {"type": "log", "domain": [1e3, 1e9], "nice": false},
"axis": {"orient": "right", "values": [1e3,1e4,1e5,1e6,1e7,1e8,1e9], "labels": false, "title": null, "domain": false, "grid": false, "tickSize": -5, "tickColor": "#333"}},
"detail": {"field": "m", "type": "nominal"}
}
},
{
"data": {"name": "data"},
"mark": {"type": "line", "clip": true, "color": "#777", "strokeWidth": 0.7},
"encoding": {
"x": {"field": "x", "type": "quantitative", "scale": {"type": "log", "domain": [1e-8, 1e-3], "nice": false},
"axis": {"orient": "bottom", "values": [1e-8,1e-7,1e-6,1e-5,1e-4,1e-3], "grid": false, "domain": false, "tickSize": -5, "tickColor": "#333",
"labelExpr": "round(log(datum.value)/LN10) == -8 ? '10⁻⁸' : round(log(datum.value)/LN10) == -6 ? '10⁻⁶' : round(log(datum.value)/LN10) == -4 ? '10⁻⁴' : ''",
"labelFontSize": 25, "labelColor": "#000", "labelPadding": 21, "labelFlush": false, "labelOverlap": false, "labelBound": false,
"title": "Current (A)", "titleFontSize": 37, "titleFontWeight": "normal", "titleColor": "#000", "titleBaseline": "alphabetic", "titleAlign": "center", "titleX": 250.5, "titleY": 74}},
"y": {"field": "y", "type": "quantitative", "scale": {"type": "log", "domain": [1e3, 1e9], "nice": false},
"axis": {"orient": "left", "values": [1e3,1e4,1e5,1e6,1e7,1e8,1e9], "grid": false, "domain": false, "tickSize": -5, "tickColor": "#333",
"labelExpr": "round(log(datum.value)/LN10) == 8 ? '10⁸' : round(log(datum.value)/LN10) == 6 ? '10⁶' : round(log(datum.value)/LN10) == 4 ? '10⁴' : ''",
"labelFontSize": 25, "labelColor": "#000", "labelPadding": 9, "labelFlush": false, "labelOverlap": false, "labelBound": false,
"title": "Probability density (A⁻¹)", "titleFontSize": 38, "titleFontWeight": "normal", "titleColor": "#000", "titleBaseline": "alphabetic", "titleAlign": "center", "titleX": -53, "titleY": 183.5}},
"detail": {"field": "g", "type": "nominal"}
}
},
{
"data": {"name": "data"},
"mark": {"type": "point", "clip": true, "shape": "M-1,0H1M0,-1V1M-0.7,-0.7L0.7,0.7M-0.7,0.7L0.7,-0.7", "size": 100, "filled": false, "color": "#000", "strokeWidth": 1.2, "opacity": 1},
"encoding": {
"x": {"field": "x", "type": "quantitative", "scale": {"type": "log", "domain": [1e-8, 1e-3], "nice": false}, "axis": null},
"y": {"field": "y", "type": "quantitative", "scale": {"type": "log", "domain": [1e3, 1e9], "nice": false}, "axis": null}
}
},
{
"data": {"name": "legend"},
"mark": {"type": "point", "clip": true, "size": 2500, "filled": false, "color": "#444", "strokeWidth": 1, "opacity": 1},
"encoding": {
"x": {"field": "x", "type": "quantitative", "scale": {"type": "log", "domain": [1e-8, 1e-3], "nice": false}, "axis": null},
"y": {"field": "y", "type": "quantitative", "scale": {"type": "log", "domain": [1e3, 1e9], "nice": false}, "axis": null},
"shape": {"field": "s", "type": "nominal",
"scale": {"domain": ["DATA", "Model"], "range": ["M-0.84,0H0.84M-1.02,0H-0.66M-0.84,-0.18V0.18M-0.97,-0.13L-0.71,0.13M-0.97,0.13L-0.71,-0.13M0.66,0H1.02M0.84,-0.18V0.18M0.71,-0.13L0.97,0.13M0.71,0.13L0.97,-0.13", "M-0.84,0H0.84"]},
"legend": {"title": null, "orient": "none", "legendX": 314, "legendY": 11, "labelFontSize": 27, "labelColor": "#000", "labelOffset": 21, "symbolSize": 2500, "symbolStrokeWidth": 1, "symbolStrokeColor": "#444", "symbolFillColor": "transparent", "symbolOpacity": 1, "strokeColor": "#333", "fillColor": "white", "padding": 13, "rowPadding": -2, "clipHeight": 25, "cornerRadius": 0}}
}
}
],
"resolve": {"axis": {"x": "independent", "y": "independent"}}
}
